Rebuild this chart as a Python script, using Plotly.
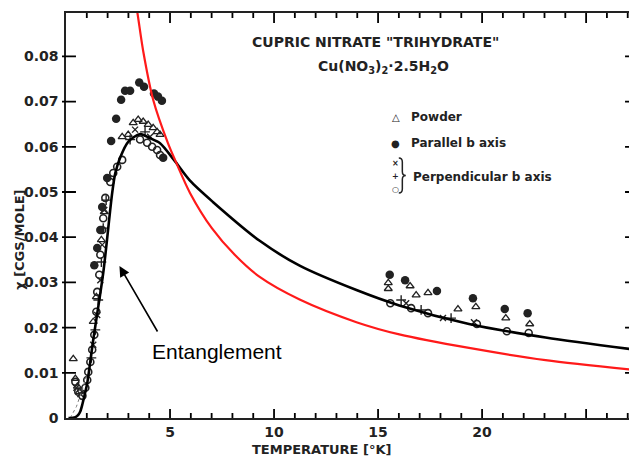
import plotly.graph_objects as go

# ---------------- data ----------------
black_T = [0.12, 0.45, 0.59, 0.69, 0.79, 0.93, 1.02, 1.31, 1.79, 2.22, 2.37, 2.61, 2.99, 3.56, 4.04,
           4.52, 5.19, 5.96, 7.06, 9.31, 11.23, 13.96, 16.02, 19.37, 23.05, 27.37]
black_chi = [0.0, 0.0002, 0.0007, 0.0015, 0.0031, 0.0058, 0.0077, 0.0173, 0.0321, 0.0498, 0.0542, 0.0577,
             0.0611, 0.0628, 0.0619, 0.0608, 0.0571, 0.0525, 0.0478, 0.0392, 0.0337, 0.0283, 0.0249,
             0.0208, 0.0178, 0.0151]

red_T = [3.32, 3.43, 3.71, 4.19, 4.90, 5.24, 5.96, 7.01, 8.11, 9.31, 11.23, 13.96, 16.02, 19.37, 23.05, 27.37]
red_chi = [0.0925, 0.0897, 0.0812, 0.0704, 0.0608, 0.0571, 0.0498, 0.0420, 0.0361, 0.0312, 0.0262,
           0.0212, 0.0185, 0.0155, 0.0128, 0.0106]

dash_T = [0.2, 0.5, 0.8, 1.0]
dash_chi = [0.0, 0.0025, 0.0065, 0.0095]

powder_T = [0.35, 0.45, 0.55, 0.64, 1.31, 1.46, 1.70, 1.84,
            2.70, 2.99, 3.23, 3.47, 3.71, 3.95, 4.19, 4.38, 4.52,
            15.49, 15.49, 16.54, 16.83, 17.40, 18.84, 19.70, 21.14, 22.29]
powder_chi = [0.0131, 0.0087, 0.0070, 0.0058, 0.0213, 0.0268, 0.0394, 0.0456,
              0.0622, 0.0627, 0.0653, 0.0660, 0.0656, 0.0649, 0.0642, 0.0633, 0.0627,
              0.0299, 0.0286, 0.0292, 0.0272, 0.0277, 0.0241, 0.0246, 0.0221, 0.0208]

par_T = [1.36, 1.50, 1.65, 1.74, 1.98, 2.17, 2.41, 2.65, 2.84, 3.08, 3.52, 3.75, 4.23, 4.42, 4.61, 4.67,
         15.56, 16.30, 17.83, 19.56, 21.09, 22.19]
par_chi = [0.0338, 0.0376, 0.0416, 0.0467, 0.0531, 0.0613, 0.0662, 0.0704, 0.0724, 0.0724, 0.0742,
           0.0733, 0.0718, 0.0711, 0.0702, 0.0576,
           0.0317, 0.0305, 0.0281, 0.0265, 0.0241, 0.0232]

perp_o_T = [0.45, 0.59, 0.79, 0.93, 1.02, 1.07, 1.17, 1.26, 1.36, 1.46, 1.50, 1.60, 1.65, 1.74, 1.79, 1.89,
            2.13, 2.27, 2.46, 2.70, 3.56, 3.90, 4.14, 4.38, 4.52,
            15.59, 16.59, 17.40, 19.75, 21.19, 22.24]
perp_o_chi = [0.0080, 0.0058, 0.0049, 0.0067, 0.0084, 0.0102, 0.0124, 0.0151, 0.0184, 0.0235, 0.0279,
              0.0317, 0.0361, 0.0416, 0.0442, 0.0487,
              0.0522, 0.0542, 0.0556, 0.0571, 0.0616, 0.0609, 0.0600, 0.0593, 0.0582,
              0.0254, 0.0243, 0.0232, 0.0208, 0.0192, 0.0188]

perp_plus_T = [1.22, 1.41, 1.55, 1.70, 1.79, 1.93, 3.08, 3.80, 16.11, 17.07, 18.51]
perp_plus_chi = [0.0133, 0.0195, 0.0261, 0.0345, 0.0420, 0.0482, 0.0616, 0.0633, 0.0261, 0.0239, 0.0221]

perp_x_T = [0.50, 0.69, 1.31, 1.50, 1.65, 1.74, 1.84, 3.32, 4.04, 16.35, 18.12, 19.61]
perp_x_chi = [0.0067, 0.0053, 0.0162, 0.0228, 0.0305, 0.0383, 0.0460, 0.0638, 0.0622, 0.0254, 0.0221, 0.0212]

x_tick_vals = [5, 10, 15, 20]
x_tick_text = ["5", "10", "15", "20"]
x_major_marks = [5, 10, 15, 20, 25]
x_minor_marks = [1, 2, 3, 4, 6, 7, 8, 9, 11, 12, 13, 14, 16, 17, 18, 19, 21, 22, 23, 24, 26, 27]
y_tick_vals = [0, 0.01, 0.02, 0.03, 0.04, 0.05, 0.06, 0.07, 0.08]
y_tick_text = ["0", "0.01", "0.02", "0.03", "0.04", "0.05", "0.06", "0.07", "0.08"]

# ---------------- figure ----------------
# The page body has an 8px margin, so the figure is 8px smaller than the window.
INK = "#222222"
X_MAX = 27.35
Y_MAX = 0.0896
PLOT_W = 571   # plot-area width in px
PLOT_H = 405   # plot-area height in px

fig = go.Figure()

def mk(x, y, symbol, size=7, lw=1.4):
    return go.Scatter(x=x, y=y, mode="markers",
                      marker=dict(symbol=symbol, size=size, color=INK,
                                  line=dict(color=INK, width=lw)),
                      showlegend=False, hoverinfo="skip")

fig.add_trace(mk(powder_T, powder_chi, "triangle-up-open", 7, 1.3))
fig.add_trace(mk(perp_o_T, perp_o_chi, "circle-open", 7, 1.6))
fig.add_trace(mk(perp_plus_T, perp_plus_chi, "cross-thin-open", 7, 1.4))
fig.add_trace(mk(perp_x_T, perp_x_chi, "x-thin-open", 6, 1.4))
fig.add_trace(mk(par_T, par_chi, "circle", 8.5, 0))

fig.add_trace(go.Scatter(x=dash_T, y=dash_chi, mode="lines",
                         line=dict(color="#777777", width=1, dash="dot"), showlegend=False))
fig.add_trace(go.Scatter(x=black_T, y=black_chi, mode="lines",
                         line=dict(color="black", width=2.6, shape="spline", smoothing=0.8),
                         showlegend=False))
fig.add_trace(go.Scatter(x=red_T, y=red_chi, mode="lines",
                         line=dict(color="#ff1a1a", width=2.2, shape="spline", smoothing=0.8),
                         showlegend=False))

tickfont = dict(family="DejaVu Sans", size=14, color=INK, weight="bold")

fig.update_layout(
    width=629, height=452,
    margin=dict(l=58, r=0, t=5, b=42),
    paper_bgcolor="white", plot_bgcolor="white",
    showlegend=False,
    xaxis=dict(range=[0, X_MAX],
               showline=True, linecolor=INK, linewidth=1.5, mirror=True,
               ticks="", tickvals=x_tick_vals, ticktext=x_tick_text, tickfont=tickfont,
               showgrid=False, zeroline=False),
    yaxis=dict(range=[0, Y_MAX],
               showline=True, linecolor=INK, linewidth=1.5, mirror=True,
               ticks="", tickvals=y_tick_vals, ticktext=y_tick_text, tickfont=tickfont,
               ticklabelstandoff=3,
               showgrid=False, zeroline=False),
)

# tick marks: one path shape, positions taken from the axis ranges, lengths in px
segs = []
def vseg(xp, ya, yb):
    segs.append(f"M {xp:.5f},{ya:.5f} L {xp:.5f},{yb:.5f}")
def hseg(yp, xa, xb):
    segs.append(f"M {xa:.5f},{yp:.5f} L {xb:.5f},{yp:.5f}")
for v in x_major_marks:
    vseg(v / X_MAX, 0, 9 / PLOT_H)
    vseg(v / X_MAX, 1, 1 - 10 / PLOT_H)
for v in x_minor_marks:
    vseg(v / X_MAX, 0, 5 / PLOT_H)
    vseg(v / X_MAX, 1, 1 - 5 / PLOT_H)
for v in y_tick_vals[1:]:
    hseg(v / Y_MAX, -4 / PLOT_W, 10 / PLOT_W)
    hseg(v / Y_MAX, 1 - 10 / PLOT_W, 1)
fig.add_shape(type="path", xref="paper", yref="paper", path=" ".join(segs),
              line=dict(color="black", width=1.8))

def txt(x, y, s, size=12, xanchor="center", family="DejaVu Sans", weight="bold", textangle=0, color=INK):
    fig.add_annotation(x=x, y=y, xref="paper", yref="paper", text=s, showarrow=False,
                       xanchor=xanchor, yanchor="middle", textangle=textangle,
                       font=dict(family=family, size=size, color=color, weight=weight))

txt(0.5447, 0.9284, 'CUPRIC NITRATE "TRIHYDRATE"', 14)
txt(0.5587, 0.8667, "Cu(NO<sub>3</sub>)<sub>2</sub>·2.5H<sub>2</sub>O", 14)
txt(0.5797, 0.7432, "△", 10)
txt(0.6025, 0.7432, "Powder", 12, "left")
txt(0.5797, 0.6790, "●", 10)
txt(0.6025, 0.6790, "Parallel b axis", 12, "left")
txt(0.5797, 0.6296, "×", 8)
txt(0.5797, 0.5975, "+", 8)
txt(0.5797, 0.5654, "○", 8)
txt(0.6060, 0.5951, "Perpendicular b axis", 12, "left")
txt(0.4483, -0.079, "TEMPERATURE [°K]", 13)
txt(-0.0830, 0.4395, "χ [CGS/MOLE]", 13, textangle=-90)
txt(0.2662, 0.163, "Entanglement", 21, family="Liberation Sans", weight="normal", color="black")

# curly brace of the perpendicular legend entry
fig.add_shape(type="path", xref="paper", yref="paper",
              path=("M 0.5849,0.642 Q 0.5911,0.642 0.5911,0.632 L 0.5911,0.6088 "
                    "Q 0.5911,0.5988 0.5972,0.5988 Q 0.5911,0.5988 0.5911,0.5888 "
                    "L 0.5911,0.5656 Q 0.5911,0.5556 0.5849,0.5556"),
              line=dict(color=INK, width=1.5))

fig.add_annotation(x=2.57, y=0.0336, ax=4.44, ay=0.0188, xref="x", yref="y", axref="x", ayref="y",
                   showarrow=True, arrowhead=2, arrowsize=1.3, arrowwidth=1.6, arrowcolor="black",
                   text="")

fig.write_html("out.html")
